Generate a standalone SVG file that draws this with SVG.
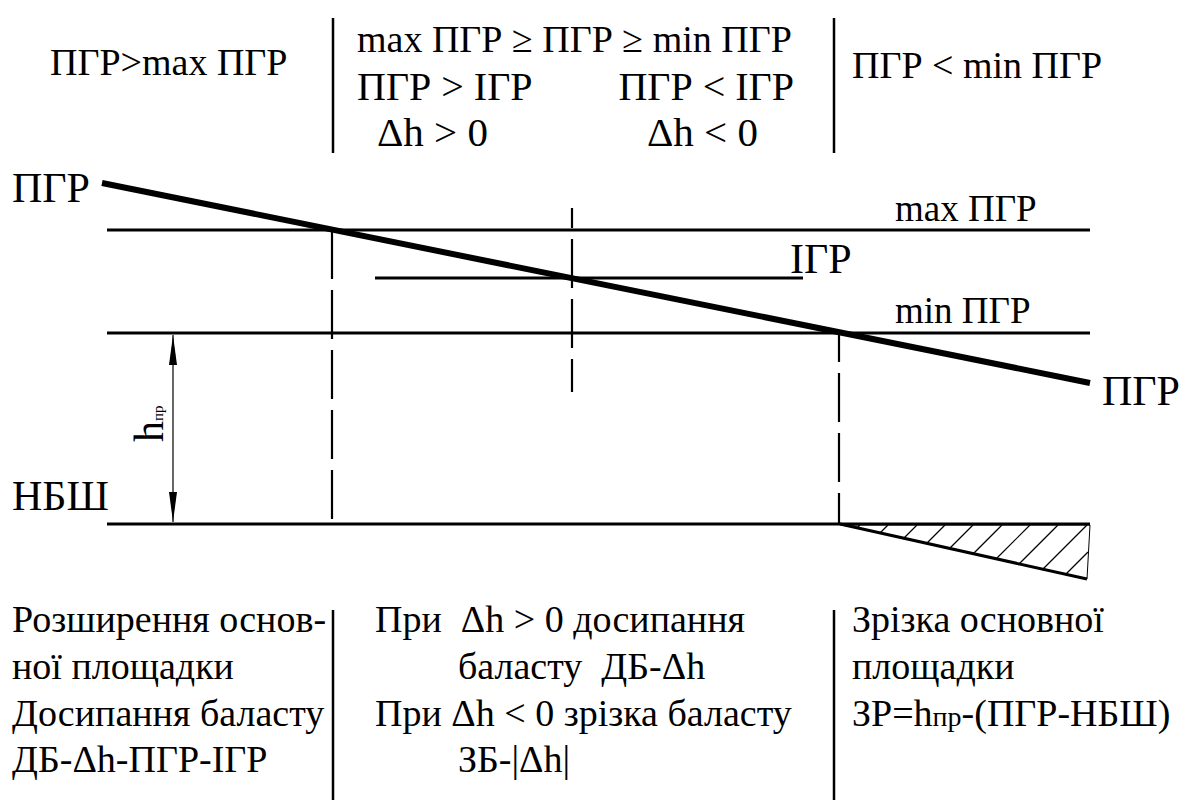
<svg xmlns="http://www.w3.org/2000/svg" width="1188" height="800" viewBox="0 0 1188 800" font-family="'Liberation Serif', 'Times New Roman', serif">
<defs>
<style>
text{font-family:'Liberation Serif','Times New Roman',serif;fill:#000}
.t{font-size:38px}
.m{font-size:40px}
.d{font-size:41px}
.big{font-size:42px}
.lbl{font-size:37px}
.thin{stroke:#000;stroke-width:1.2;fill:none}
.ln{stroke:#000;stroke-width:3;fill:none}
.sep{stroke:#000;stroke-width:2.5;fill:none}
.thick{stroke:#000;stroke-width:6;fill:none}
.dash{stroke:#000;stroke-width:2.2;fill:none;stroke-dasharray:49 11}
</style>
<marker id="ar" viewBox="0 0 30 8" refX="30" refY="4" markerWidth="30" markerHeight="8" markerUnits="userSpaceOnUse" orient="auto-start-reverse">
<path d="M0,0 L30,4 L0,8 Z" fill="#000"/>
</marker>
</defs>
<rect width="1188" height="800" fill="#fff"/>
<g id="header">
<text class="t" x="50" y="75">ПГР&gt;max ПГР</text>
<line class="sep" x1="333" y1="18" x2="333" y2="153"/>
<text class="t" x="357" y="52">max ПГР ≥ ПГР ≥ min ПГР</text>
<text class="m" x="357" y="100">ПГР &gt; ІГР</text>
<text class="m" x="794" y="100" text-anchor="end">ПГР &lt; ІГР</text>
<text class="d" x="377" y="146">Δh &gt; 0</text>
<text class="d" x="647" y="146">Δh &lt; 0</text>
<line class="sep" x1="834" y1="18" x2="834" y2="153"/>
<text class="t" x="852" y="78">ПГР &lt; min ПГР</text>
</g>
<g id="levels">
<line class="ln" x1="107" y1="230" x2="1090" y2="230"/>
<text class="lbl" x="895" y="221">max ПГР</text>
<line class="ln" x1="375" y1="278" x2="803" y2="278"/>
<text class="big" x="790" y="273">ІГР</text>
<line class="ln" x1="107" y1="333" x2="1090" y2="333"/>
<text class="lbl" x="895" y="323">min ПГР</text>
<line class="ln" x1="107" y1="524" x2="1090" y2="524"/>
<text class="big" x="12" y="510">НБШ</text>
</g>
<g id="pgr-line">
<text class="big" x="12" y="202">ПГР</text>
<line class="thick" x1="102" y1="183" x2="1090" y2="383"/>
<text class="big" x="1102" y="405">ПГР</text>
</g>
<g id="connectors">
<line class="dash" x1="332" y1="230" x2="332" y2="524"/>
<line class="dash" x1="572" y1="208" x2="572" y2="392" stroke-dashoffset="29"/>
<line class="dash" x1="839" y1="333" x2="839" y2="524" stroke-dashoffset="20"/>
<line class="thin" x1="173" y1="335" x2="173" y2="522" marker-start="url(#ar)" marker-end="url(#ar)"/>
</g>
<g id="dimension">
<text font-size="42" transform="translate(163,442) rotate(-90)">h<tspan font-size="15">пр</tspan></text>
</g>
<g id="cut">
<path d="M843,525 L1090,525 L1087,579" fill="none" stroke="#000" stroke-width="1"/>
<line class="ln" x1="840" y1="524" x2="1087" y2="579"/>
<g class="thin">
<line x1="860" y1="525" x2="857" y2="528"/>
<line x1="888" y1="525" x2="880" y2="533"/>
<line x1="917" y1="525" x2="903" y2="539"/>
<line x1="945" y1="525" x2="926" y2="544"/>
<line x1="973" y1="525" x2="949" y2="549"/>
<line x1="1002" y1="525" x2="973" y2="554"/>
<line x1="1030" y1="525" x2="996" y2="559"/>
<line x1="1058" y1="525" x2="1018" y2="565"/>
<line x1="1087" y1="525" x2="1042" y2="570"/>
<line x1="1088" y1="552" x2="1065" y2="575"/>
</g>
</g>
<g id="footer">
<line class="sep" x1="333" y1="610" x2="333" y2="800"/>
<line class="sep" x1="834" y1="610" x2="834" y2="800"/>
<text class="t" x="12" y="632">Розширення основ-</text>
<text class="t" x="12" y="679">ної площадки</text>
<text class="t" x="12" y="726">Досипання баласту</text>
<text class="t" x="12" y="772">ДБ-Δh-ПГР-ІГР</text>
<text class="t" x="375" y="632" xml:space="preserve">При  Δh &gt; 0 досипання</text>
<text class="t" x="458" y="679" xml:space="preserve">баласту  ДБ-Δh</text>
<text class="t" x="375" y="726">При Δh &lt; 0 зрізка баласту</text>
<text class="t" x="458" y="772">ЗБ-|Δh|</text>
<text class="t" x="852" y="632">Зрізка основної</text>
<text class="t" x="852" y="679">площадки</text>
<text class="t" x="852" y="726">ЗР=h<tspan font-size="28">пр</tspan>-(ПГР-НБШ)</text>
</g>
</svg>
